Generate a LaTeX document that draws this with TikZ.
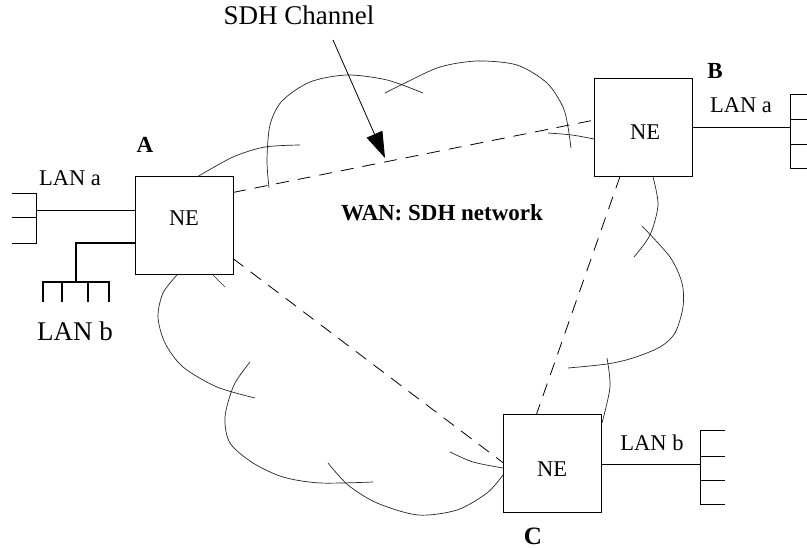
\documentclass[tikz,border=0pt]{standalone}
\usepackage{fontspec}
\setmainfont{Liberation Serif}
\usetikzlibrary{arrows.meta}

\begin{document}
\begin{tikzpicture}[%
      x=1pt, y=-1pt,
      nebox/.style={draw, line width=0.9pt, minimum width=98pt, minimum height=98pt, inner sep=0pt, outer sep=0pt},
      txt/.style={anchor=base, inner sep=0pt, font=\fontsize{22.5}{26}\selectfont},
      bigtxt/.style={txt, font=\fontsize{27}{32}\selectfont},
      boldtxt/.style={txt, font=\fontsize{23}{27}\selectfont\bfseries},
      cloudline/.style={line width=0.7pt, color=black!85},
      channel/.style={line width=0.8pt, dash pattern=on 13pt off 9pt},
      lan/.style={line width=0.9pt},
      lanthick/.style={line width=2.8pt, line cap=rect},
      ]
      \useasboundingbox (0,0) rectangle (807,548);

      \node (neA) [nebox] at (184,225.5) {};
      \node (neB) [nebox] at (643,127) {};
      \node (neC) [nebox] at (552.5,463) {};
      \node (neAtext) [txt] at (184,226) {NE};
      \node (neBtext) [txt] at (645,140) {NE};
      \node (neCtext) [txt] at (552,476) {NE};

      \node (lblA) [boldtxt] at (145,153) {A};
      \node (lblB) [boldtxt] at (715,79) {B};
      \node (lblC) [boldtxt, font=\fontsize{25}{30}\selectfont\bfseries] at (533,544) {C};
      \node (wanText) [boldtxt] at (442,221) {WAN: SDH network};
      \node (sdhText) [txt, font=\fontsize{27}{31}\selectfont] at (299,25) {SDH Channel};

      \node (lanAaText) [txt] at (70,186) {LAN a};
      \node (lanAbText) [bigtxt] at (75,341) {LAN b};
      \node (lanBaText) [txt] at (741,113) {LAN a};
      \node (lanCbText) [txt] at (652,450) {LAN b};

      % cloud
      \draw [cloudline] plot [smooth] coordinates {(197,177) (233,157) (265,147) (300,145)};
      \draw [cloudline] plot [smooth] coordinates {(269,188) (267,160) (270,125) (282,101) (310,82) (347,75) (387,80) (423,93)};
      \draw [cloudline] plot [smooth] coordinates {(385,93) (407,82) (440,67) (477,61) (517,65) (547,83) (563,107) (568,127) (571,148)};
      \draw [cloudline] plot [smooth] coordinates {(548,133) (572,135) (594,139)};
      \draw [cloudline] plot [smooth] coordinates {(653,177) (658,205) (650,235) (634,257)};
      \draw [cloudline] plot [smooth] coordinates {(642,226) (670,257) (682,283) (683,307) (675,333) (660,347) (633,358) (607,364) (568,368)};
      \draw [cloudline] plot [smooth] coordinates {(607,358) (610,387) (602,423)};
      \draw [cloudline] plot [smooth] coordinates {(328,463) (348,485) (377,503) (418,515) (457,510) (487,493) (503,475)};
      \draw [cloudline] plot [smooth] coordinates {(450,452) (473,462) (503,468)};
      \draw [cloudline] plot [smooth] coordinates {(250,362) (234,385) (225,417) (230,443) (253,463) (283,477) (320,483) (373,482)};
      \draw [cloudline] plot [smooth] coordinates {(177,275) (163,293) (158,317) (165,343) (183,367) (217,387) (255,398)};
      \draw [cloudline] (213,275) -- (225,287);

      % SDH channels
      \draw [channel] (neA.34) -- (neB.172);
      \draw [channel] (neA.-34) -- (neC.west);
      \draw [channel] (neB.245) -- (neC.108);

      \coordinate (sdhTail) at (333,40);
      \coordinate (sdhTip) at (385,158);
      \draw [line width=0.8pt, -{Triangle[length=26pt,width=17pt]}] (sdhTail) -- (sdhTip);

      % LANs
      \coordinate (portAa) at (36,210);
      \draw [lan] (neA.west |- portAa) -- (portAa);
      \draw [lan] (12,193) -- (36,193) -- (36,243) -- (12,243);
      \draw [lan] (12,217) -- (36,217);

      \coordinate (hubAb) at (76,243);
      \coordinate (portAb) at (76,282);
      \draw [lanthick] (neA.west |- hubAb) -- (hubAb) -- (portAb);
      \draw [lanthick] (43,282) -- (109,282);
      \foreach \x in {43,62,88,109}
        \draw [lanthick] (\x,282) -- (\x,301);

      \coordinate (portBa) at (790,127);
      \draw [lan] (neB.east |- portBa) -- (portBa);
      \draw [lan] (807,94) -- (790,94) -- (790,168) -- (807,168);
      \foreach \y in {119,144}
        \draw [lan] (790,\y) -- (807,\y);

      \coordinate (portCb) at (700,464);
      \draw [lan] (neC.east |- portCb) -- (portCb);
      \draw [lan] (725,430) -- (700,430) -- (700,504) -- (725,504);
      \foreach \y in {456,480}
        \draw [lan] (700,\y) -- (725,\y);
\end{tikzpicture}
\end{document}
